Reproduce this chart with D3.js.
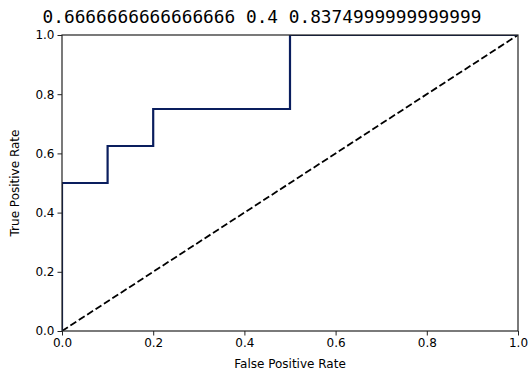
<!DOCTYPE html>
<html>
<head>
<meta charset="utf-8">
<script src="https://cdn.jsdelivr.net/npm/d3@7"></script>
<style>
  body { margin: 0; background: #fff; }
  text { font-family: "DejaVu Sans", sans-serif; }
</style>
</head>
<body>
<svg id="chart"></svg>
<script>
// ROC curve points
var fpr = [0, 0, 0.1, 0.1, 0.2, 0.2, 0.5, 0.5, 1];
var tpr = [0, 0.5, 0.5, 0.625, 0.625, 0.75, 0.75, 1, 1];
var chanceLine = [0, 1];
var ticks = [0, 0.2, 0.4, 0.6, 0.8, 1.0];
var titleText = "0.6666666666666666 0.4 0.8374999999999999";

var margin = { top: 35, right: 11, bottom: 45, left: 62 };
var width = 529 - margin.left - margin.right;
var height = 376 - margin.top - margin.bottom;

var root = d3.select('#chart')
    .attr('width', 529)
    .attr('height', 376);

root.append('defs').append('clipPath')
    .attr('id', 'plotClip')
    .append('rect')
    .attr('width', width)
    .attr('height', height);

var svg = root.append('g')
    .attr('transform', "translate(" + margin.left + "," + margin.top + ")");

var xScale = d3.scaleLinear().domain([0, 1]).range([0, width]);
var yScale = d3.scaleLinear().domain([0, 1]).range([height, 0]);

// title (centered on figure)
root.append('text')
    .attr('x', 262)
    .attr('y', 23)
    .attr('text-anchor', 'middle')
    .style('font-family', '"DejaVu Sans Mono", monospace')
    .style('font-size', '17.8px')
    .text(titleText);

var plot = svg.append('g').attr('clip-path', 'url(#plotClip)');

// diagonal
plot.append('line')
    .attr('x1', xScale(chanceLine[0])).attr('y1', yScale(chanceLine[0]))
    .attr('x2', xScale(chanceLine[1])).attr('y2', yScale(chanceLine[1]))
    .attr('stroke', '#000')
    .attr('stroke-width', 1.8)
    .attr('stroke-dasharray', '7,3');

// roc curve
var line = d3.line()
    .x(function (d) { return xScale(d[0]); })
    .y(function (d) { return yScale(d[1]); });
plot.append('path')
    .datum(d3.zip(fpr, tpr))
    .attr('d', line)
    .attr('fill', 'none')
    .attr('stroke', '#0a1e5e')
    .attr('stroke-width', 2.2);

// frame
svg.append('rect')
    .attr('width', width).attr('height', height)
    .attr('fill', 'none')
    .attr('stroke', '#222')
    .attr('stroke-width', 1.2);

var fmt = d3.format('.1f');
var xAxis = svg.append('g')
    .attr('transform', "translate(0," + height + ")")
    .call(d3.axisBottom(xScale).tickValues(ticks).tickFormat(fmt).tickSize(4.5).tickPadding(3));
var yAxis = svg.append('g')
    .call(d3.axisLeft(yScale).tickValues(ticks).tickFormat(fmt).tickSize(4.5).tickPadding(3));
[xAxis, yAxis].forEach(function (a) {
    a.select('.domain').remove();
    a.selectAll('text').style('font-family', '"DejaVu Sans", sans-serif').style('font-size', '12px').attr('fill', '#000');
    a.selectAll('line').attr('stroke', '#222');
});

// axis labels
svg.append('text')
    .attr('x', width / 2)
    .attr('y', height + 37)
    .attr('text-anchor', 'middle')
    .style('font-size', '12px')
    .text('False Positive Rate');
svg.append('text')
    .attr('transform', 'rotate(-90)')
    .attr('x', -height / 2)
    .attr('y', -43)
    .attr('text-anchor', 'middle')
    .style('font-size', '12px')
    .text('True Positive Rate');
</script>
</body>
</html>
